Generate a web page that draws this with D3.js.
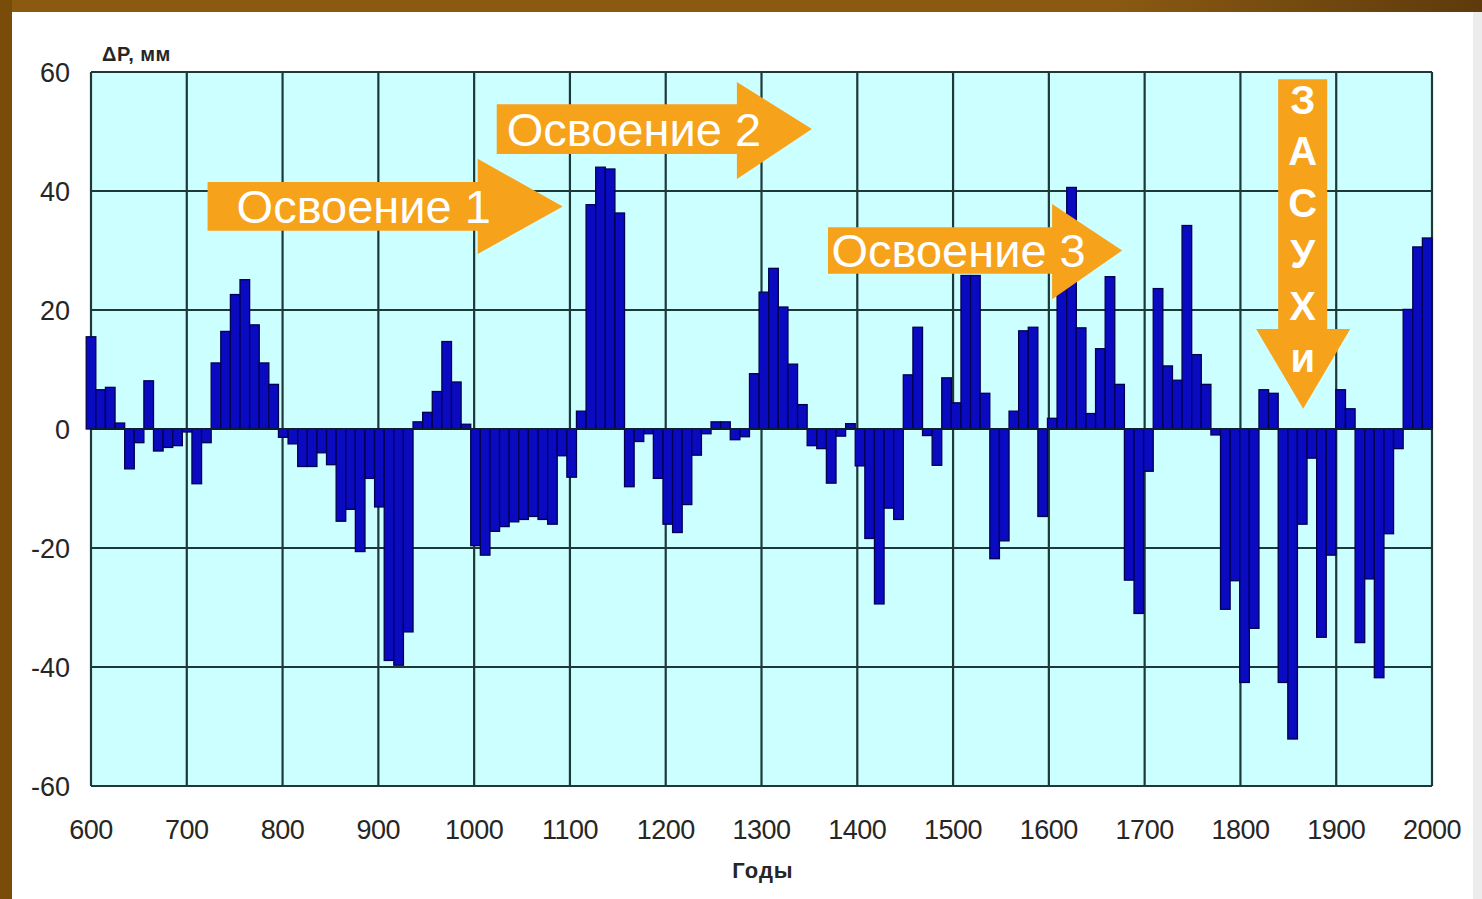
<!DOCTYPE html>
<html><head><meta charset="utf-8">
<script src="https://cdn.jsdelivr.net/npm/d3@7"></script>
<style>html,body{margin:0;padding:0;background:#fff;overflow:hidden} svg{display:block}</style>
</head><body><svg id="c" width="1482" height="899"></svg>
<script>
// Decade start years (categories)
const years = [600,610,620,630,640,650,660,670,680,690,700,710,720,730,740,750,760,770,780,790,
800,810,820,830,840,850,860,870,880,890,900,910,920,930,940,950,960,970,980,990,
1000,1010,1020,1030,1040,1050,1060,1070,1080,1090,1100,1110,1120,1130,1140,1150,1160,1170,1180,1190,
1200,1210,1220,1230,1240,1250,1260,1270,1280,1290,1300,1310,1320,1330,1340,1350,1360,1370,1380,1390,
1400,1410,1420,1430,1440,1450,1460,1470,1480,1490,1500,1510,1520,1530,1540,1550,1560,1570,1580,1590,
1600,1610,1620,1630,1640,1650,1660,1670,1680,1690,1700,1710,1720,1730,1740,1750,1760,1770,1780,1790,
1800,1810,1820,1830,1840,1850,1860,1870,1880,1890,1900,1910,1920,1930,1940,1950,1960,1970,1980,1990];
// Precipitation anomaly, mm
const values = [15.5,6.6,7.0,1.0,-6.7,-2.3,8.1,-3.7,-3.1,-2.8,-0.5,-9.2,-2.3,11.1,16.4,22.6,25.1,17.5,11.1,7.5,
-1.4,-2.5,-6.3,-6.3,-4.0,-6.0,-15.5,-13.5,-20.6,-8.3,-13.1,-38.9,-39.7,-34.1,1.2,2.8,6.3,14.7,7.9,0.8,
-19.6,-21.2,-17.2,-16.4,-15.6,-15.2,-14.7,-15.2,-16.0,-4.5,-8.1,3.0,37.7,44.0,43.7,36.3,-9.7,-2.1,-0.8,-8.3,
-16.0,-17.4,-12.7,-4.4,-0.8,1.2,1.2,-1.8,-1.3,9.3,23.0,27.0,20.5,10.9,4.1,-2.8,-3.3,-9.1,-1.2,0.9,
-6.2,-18.4,-29.4,-13.3,-15.2,9.1,17.1,-1.1,-6.1,8.6,4.4,25.8,25.8,6.0,-21.8,-18.8,3.0,16.5,17.1,-14.7,
1.8,24.0,40.6,17.0,2.6,13.5,25.6,7.5,-25.4,-31.0,-7.1,23.6,10.6,8.2,34.2,12.5,7.5,-1.0,-30.3,-25.5,
-42.6,-33.5,6.6,6.0,-42.6,-52.1,-16.0,-4.9,-35.0,-21.2,6.6,3.4,-35.9,-25.2,-41.8,-17.6,-3.3,20.1,30.6,32.1];
const yTicks = [-60,-40,-20,0,20,40,60];
const xTicks = [600,700,800,900,1000,1100,1200,1300,1400,1500,1600,1700,1800,1900,2000];
const yLabel = "ΔP, мм";
const xLabel = "Годы";
// Annotation arrows (in data units: years / mm)
const rightArrows = [
  {label:"Освоение 1", x0:721.7, x1:1003.7, tip:1092.5, body:[41.5,33.3], head:[45.4,29.4], textX:752},
  {label:"Освоение 2", x0:1023.6, x1:1274.3, tip:1352.6, body:[54.6,46.2], head:[58.3,42.0], textX:1034},
  {label:"Освоение 3", x0:1369.4, x1:1603.4, tip:1676.5, body:[33.9,26.1], head:[37.8,21.8], textX:1373}
];
const downArrow = {letters:["З","А","С","У","Х","и"], body:[1839.4,1890.6], head:[1816.4,1914.6], tipX:1865.5, top:58.8, headStart:16.8, tip:3.4};

const svg = d3.select("#c");
const W = 1482, H = 899;
// frame
svg.append("rect").attr("width",W).attr("height",H).attr("fill","#ffffff");
svg.append("rect").attr("x",1473).attr("y",0).attr("width",9).attr("height",H).attr("fill","#ececec");
const tg = svg.append("defs").append("linearGradient").attr("id","tg");
tg.append("stop").attr("offset","0%").attr("stop-color","#8a5a10");
tg.append("stop").attr("offset","75%").attr("stop-color","#8a5a12");
tg.append("stop").attr("offset","100%").attr("stop-color","#5e3a0c");
svg.append("rect").attr("x",0).attr("y",0).attr("width",W).attr("height",12).attr("fill","url(#tg)");
svg.append("rect").attr("x",0).attr("y",0).attr("width",12).attr("height",H).attr("fill","#7a4c0a");

const m = {left:91, right:1432, top:72, bottom:786};
const x = d3.scaleLinear().domain([600,2000]).range([m.left,m.right]);
const y = d3.scaleLinear().domain([-60,60]).range([m.bottom,m.top]);
const band = d3.scaleBand().domain(years).range([x(595), x(2000)]).paddingInner(0);

// plot bg
svg.append("rect").attr("x",m.left).attr("y",m.top).attr("width",m.right-m.left).attr("height",m.bottom-m.top).attr("fill","#ccffff");

// grid
const gridColor = "#1e3838";
svg.append("g").selectAll("line").data(xTicks).join("line")
  .attr("x1",d=>x(d)).attr("x2",d=>x(d)).attr("y1",m.top).attr("y2",m.bottom)
  .attr("stroke",gridColor).attr("stroke-width",2.2);
svg.append("g").selectAll("line").data(yTicks).join("line")
  .attr("x1",m.left).attr("x2",m.right).attr("y1",d=>y(d)).attr("y2",d=>y(d))
  .attr("stroke",gridColor).attr("stroke-width",2.2);

// bars
svg.append("g").selectAll("rect").data(years).join("rect")
  .attr("x",d=>band(d)).attr("width",band.bandwidth())
  .attr("y",(d,i)=>y(Math.max(0,values[i])))
  .attr("height",(d,i)=>Math.abs(y(values[i])-y(0)))
  .attr("fill","#0a0ac0").attr("stroke","#000050").attr("stroke-width",1.3);

// zero line on top
svg.append("line").attr("x1",m.left).attr("x2",m.right).attr("y1",y(0)).attr("y2",y(0))
  .attr("stroke","#101c30").attr("stroke-width",2);

// axes labels
const font = "'Liberation Sans', Arial, sans-serif";
svg.append("g").selectAll("text").data(yTicks).join("text")
  .attr("x",70).attr("y",d=>y(d)).attr("dy","0.36em").attr("text-anchor","end")
  .attr("font-family",font).attr("font-size",27).attr("fill","#262626").text(d=>d);
svg.append("g").selectAll("text").data(xTicks).join("text")
  .attr("x",d=>x(d)).attr("y",839).attr("text-anchor","middle")
  .attr("font-family",font).attr("font-size",27).attr("letter-spacing",-0.5).attr("fill","#262626").text(d=>d);
svg.append("text").attr("x",102).attr("y",61).attr("font-family",font).attr("font-weight","bold")
  .attr("font-size",20).attr("letter-spacing",0.5).attr("fill","#262626").text(yLabel);
svg.append("text").attr("x",763).attr("y",878).attr("text-anchor","middle").attr("font-family",font).attr("font-weight","bold")
  .attr("font-size",22).attr("letter-spacing",1).attr("fill","#262626").text(xLabel);

// arrows
const orange = "#f6a21a";
rightArrows.forEach(a=>{
  const mid = (a.body[0]+a.body[1])/2;
  const pts = [[a.x0,a.body[0]],[a.x1,a.body[0]],[a.x1,a.head[0]],[a.tip,mid],[a.x1,a.head[1]],[a.x1,a.body[1]],[a.x0,a.body[1]]]
    .map(p=>[x(p[0]),y(p[1])]);
  svg.append("polygon").attr("points",pts.map(p=>p.join(",")).join(" ")).attr("fill",orange);
  svg.append("text").attr("x",x(a.textX)).attr("y",y(mid)).attr("dy","0.36em")
    .attr("font-family",font).attr("font-size",47).attr("fill","#ffffff").text(a.label);
});
{
  const a = downArrow;
  const pts = [[a.body[0],a.top],[a.body[1],a.top],[a.body[1],a.headStart],[a.head[1],a.headStart],[a.tipX,a.tip],
    [a.head[0],a.headStart],[a.body[0],a.headStart]].map(p=>[x(p[0]),y(p[1])]);
  svg.append("polygon").attr("points",pts.map(p=>p.join(",")).join(" ")).attr("fill",orange);
  const cx = x((a.body[0]+a.body[1])/2);
  const y0 = y(a.top)+20, step = 51.6;
  svg.append("g").selectAll("text").data(a.letters).join("text")
    .attr("x",cx).attr("y",(d,i)=>y0+i*step).attr("dy","0.36em").attr("text-anchor","middle")
    .attr("font-family",font).attr("font-weight","bold").attr("font-size",40).attr("fill","#fff").text(d=>d);
}
</script></body></html>
